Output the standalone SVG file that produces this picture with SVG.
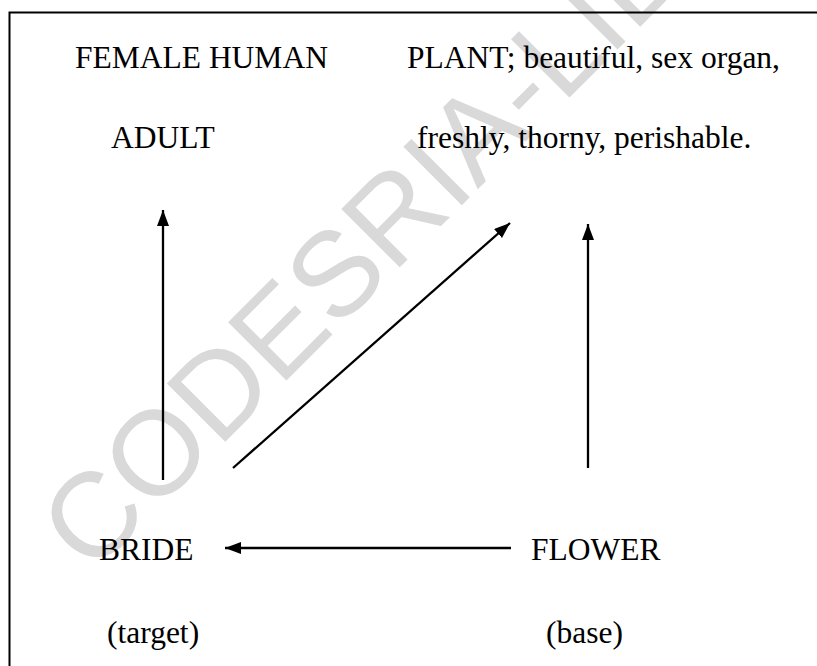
<svg xmlns="http://www.w3.org/2000/svg" width="817" height="666" viewBox="0 0 817 666">
  <style>
    .lbl { font-family: "Liberation Serif", "Times New Roman", serif; font-size: 31.5px; fill: #000; }
    .wm { font-family: "Liberation Sans", Arial, sans-serif; font-size: 120px; fill: #d9d9d9; }
    .con { stroke: #000; stroke-width: 2.3; fill: none; marker-end: url(#ah); }
  </style>
  <defs>
    <marker id="ah" markerUnits="userSpaceOnUse" markerWidth="17" markerHeight="13" refX="16" refY="6" orient="auto">
      <path d="M0,0 L16,6 L0,12 z" fill="#000"/>
    </marker>
  </defs>
  <rect width="817" height="666" fill="#fff"/>
  <text class="wm" transform="translate(91,576) rotate(-45)">CODESRIA-LIBRARY</text>
  <path d="M9.5,666 V12.5 H817" stroke="#000" stroke-width="2" fill="none"/>

  <g id="female-human"><text class="lbl" x="75" y="68">FEMALE HUMAN</text></g>
  <g id="plant"><text class="lbl" x="407" y="68">PLANT; beautiful, sex organ,</text></g>
  <g id="adult"><text class="lbl" x="111" y="148">ADULT</text></g>
  <g id="freshly"><text class="lbl" x="417" y="148">freshly, thorny, perishable.</text></g>
  <g id="bride"><text class="lbl" x="99" y="560">BRIDE</text></g>
  <g id="flower"><text class="lbl" x="531" y="560">FLOWER</text></g>
  <g id="target"><text class="lbl" x="107" y="643">(target)</text></g>
  <g id="base"><text class="lbl" x="546" y="643">(base)</text></g>

  <g id="connectors">
    <line class="con" x1="163" y1="480" x2="163" y2="210"/>
    <line class="con" x1="233" y1="468" x2="510" y2="223"/>
    <line class="con" x1="588" y1="468" x2="588" y2="224"/>
    <line class="con" x1="511" y1="548" x2="225" y2="548"/>
  </g>
</svg>
